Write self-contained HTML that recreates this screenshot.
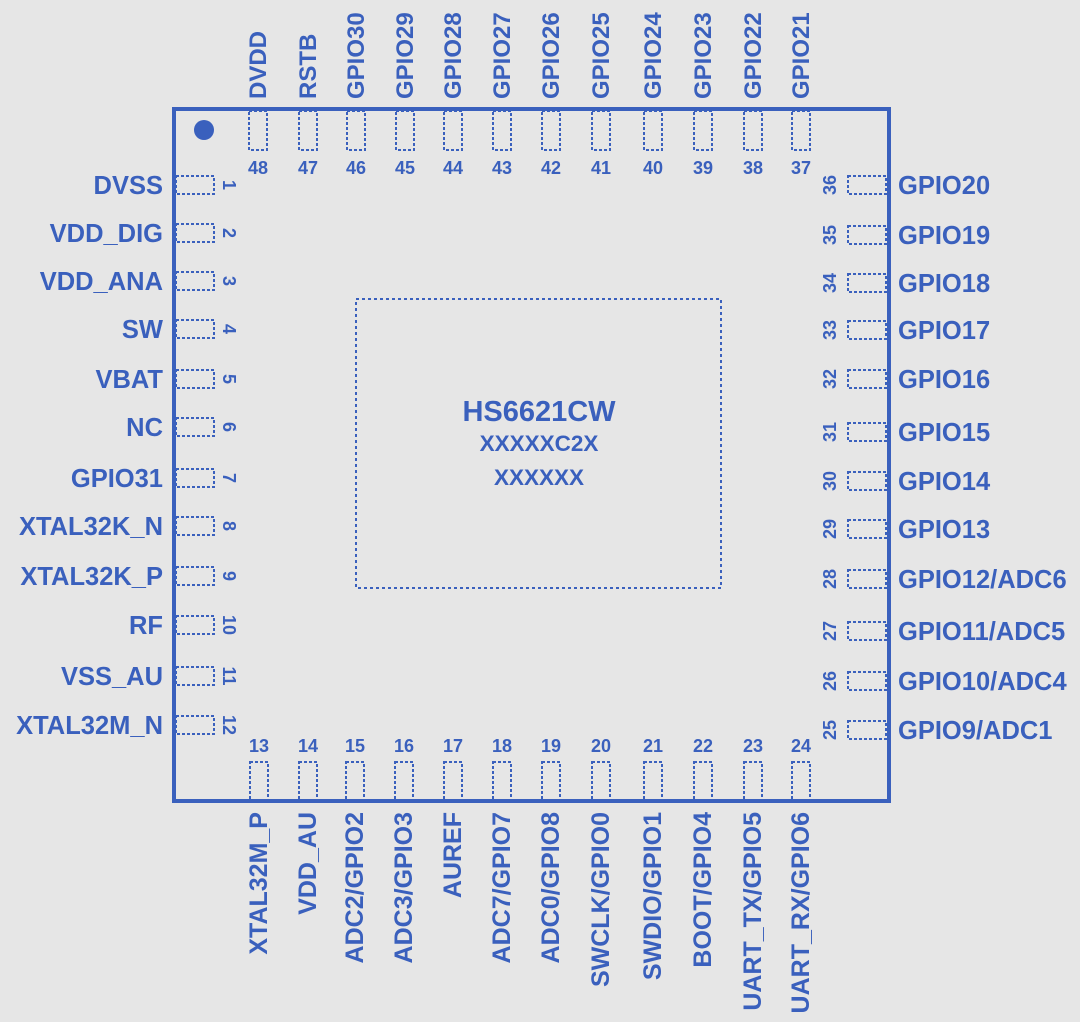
<!DOCTYPE html><html><head><style>body{margin:0;background:#e6e6e6}svg{display:block}text{font-family:"Liberation Sans",Arial,sans-serif;font-weight:bold;fill:#3a60bd}</style></head><body>
<svg width="1080" height="1022" viewBox="0 0 1080 1022">
<rect width="1080" height="1022" fill="#e6e6e6"/>
<rect x="174" y="109" width="715" height="692" fill="none" stroke="#3a60bd" stroke-width="4"/>
<circle cx="204" cy="130" r="10" fill="#3a60bd"/>
<rect x="356" y="299" width="365" height="289" fill="none" stroke="#3a60bd" stroke-width="2" stroke-dasharray="3 3"/>
<text x="539" y="421" font-size="29" text-anchor="middle">HS6621CW</text>
<text x="539" y="451" font-size="22.5" text-anchor="middle">XXXXXC2X</text>
<text x="539" y="485" font-size="22.5" text-anchor="middle">XXXXXX</text>
<g fill="none" stroke="#3a60bd" stroke-width="2" stroke-dasharray="3 2">
<rect x="249" y="111" width="18" height="39"/><rect x="299" y="111" width="18" height="39"/><rect x="347" y="111" width="18" height="39"/><rect x="396" y="111" width="18" height="39"/><rect x="444" y="111" width="18" height="39"/><rect x="493" y="111" width="18" height="39"/><rect x="542" y="111" width="18" height="39"/><rect x="592" y="111" width="18" height="39"/><rect x="644" y="111" width="18" height="39"/><rect x="694" y="111" width="18" height="39"/><rect x="744" y="111" width="18" height="39"/><rect x="792" y="111" width="18" height="39"/>
<rect x="250" y="762" width="18" height="38"/><rect x="299" y="762" width="18" height="38"/><rect x="346" y="762" width="18" height="38"/><rect x="395" y="762" width="18" height="38"/><rect x="444" y="762" width="18" height="38"/><rect x="493" y="762" width="18" height="38"/><rect x="542" y="762" width="18" height="38"/><rect x="592" y="762" width="18" height="38"/><rect x="644" y="762" width="18" height="38"/><rect x="694" y="762" width="18" height="38"/><rect x="744" y="762" width="18" height="38"/><rect x="792" y="762" width="18" height="38"/>
<rect x="176" y="176" width="38" height="18"/><rect x="176" y="224" width="38" height="18"/><rect x="176" y="272" width="38" height="18"/><rect x="176" y="320" width="38" height="18"/><rect x="176" y="370" width="38" height="18"/><rect x="176" y="418" width="38" height="18"/><rect x="176" y="469" width="38" height="18"/><rect x="176" y="517" width="38" height="18"/><rect x="176" y="567" width="38" height="18"/><rect x="176" y="616" width="38" height="18"/><rect x="176" y="667" width="38" height="18"/><rect x="176" y="716" width="38" height="18"/>
<rect x="848" y="176" width="38" height="18"/><rect x="848" y="226" width="38" height="18"/><rect x="848" y="274" width="38" height="18"/><rect x="848" y="321" width="38" height="18"/><rect x="848" y="370" width="38" height="18"/><rect x="848" y="423" width="38" height="18"/><rect x="848" y="472" width="38" height="18"/><rect x="848" y="520" width="38" height="18"/><rect x="848" y="570" width="38" height="18"/><rect x="848" y="622" width="38" height="18"/><rect x="848" y="672" width="38" height="18"/><rect x="848" y="721" width="38" height="18"/>
</g>
<g font-size="18" text-anchor="middle">
<text x="258" y="174">48</text><text x="308" y="174">47</text><text x="356" y="174">46</text><text x="405" y="174">45</text><text x="453" y="174">44</text><text x="502" y="174">43</text><text x="551" y="174">42</text><text x="601" y="174">41</text><text x="653" y="174">40</text><text x="703" y="174">39</text><text x="753" y="174">38</text><text x="801" y="174">37</text>
<text x="259" y="752">13</text><text x="308" y="752">14</text><text x="355" y="752">15</text><text x="404" y="752">16</text><text x="453" y="752">17</text><text x="502" y="752">18</text><text x="551" y="752">19</text><text x="601" y="752">20</text><text x="653" y="752">21</text><text x="703" y="752">22</text><text x="753" y="752">23</text><text x="801" y="752">24</text>
</g>
<g font-size="18" text-anchor="middle">
<text transform="translate(223,185) rotate(90)">1</text><text transform="translate(223,233) rotate(90)">2</text><text transform="translate(223,281) rotate(90)">3</text><text transform="translate(223,329) rotate(90)">4</text><text transform="translate(223,379) rotate(90)">5</text><text transform="translate(223,427) rotate(90)">6</text><text transform="translate(223,478) rotate(90)">7</text><text transform="translate(223,526) rotate(90)">8</text><text transform="translate(223,576) rotate(90)">9</text><text transform="translate(223,625) rotate(90)">10</text><text transform="translate(223,676) rotate(90)">11</text><text transform="translate(223,725) rotate(90)">12</text>
<text transform="translate(836,185) rotate(-90)">36</text><text transform="translate(836,235) rotate(-90)">35</text><text transform="translate(836,283) rotate(-90)">34</text><text transform="translate(836,330) rotate(-90)">33</text><text transform="translate(836,379) rotate(-90)">32</text><text transform="translate(836,432) rotate(-90)">31</text><text transform="translate(836,481) rotate(-90)">30</text><text transform="translate(836,529) rotate(-90)">29</text><text transform="translate(836,579) rotate(-90)">28</text><text transform="translate(836,631) rotate(-90)">27</text><text transform="translate(836,681) rotate(-90)">26</text><text transform="translate(836,730) rotate(-90)">25</text>
</g>
<g font-size="25.5" text-anchor="end">
<text x="163" y="194">DVSS</text><text x="163" y="242">VDD_DIG</text><text x="163" y="290">VDD_ANA</text><text x="163" y="338">SW</text><text x="163" y="388">VBAT</text><text x="163" y="436">NC</text><text x="163" y="487">GPIO31</text><text x="163" y="535">XTAL32K_N</text><text x="163" y="585">XTAL32K_P</text><text x="163" y="634">RF</text><text x="163" y="685">VSS_AU</text><text x="163" y="734">XTAL32M_N</text>
</g>
<g font-size="25.5">
<text x="898" y="194">GPIO20</text><text x="898" y="244">GPIO19</text><text x="898" y="292">GPIO18</text><text x="898" y="339">GPIO17</text><text x="898" y="388">GPIO16</text><text x="898" y="441">GPIO15</text><text x="898" y="490">GPIO14</text><text x="898" y="538">GPIO13</text><text x="898" y="588">GPIO12/ADC6</text><text x="898" y="640">GPIO11/ADC5</text><text x="898" y="690">GPIO10/ADC4</text><text x="898" y="739">GPIO9/ADC1</text>
</g>
<g font-size="24">
<text transform="translate(266,99) rotate(-90)">DVDD</text><text transform="translate(316,99) rotate(-90)">RSTB</text><text transform="translate(364,99) rotate(-90)">GPIO30</text><text transform="translate(413,99) rotate(-90)">GPIO29</text><text transform="translate(461,99) rotate(-90)">GPIO28</text><text transform="translate(510,99) rotate(-90)">GPIO27</text><text transform="translate(559,99) rotate(-90)">GPIO26</text><text transform="translate(609,99) rotate(-90)">GPIO25</text><text transform="translate(661,99) rotate(-90)">GPIO24</text><text transform="translate(711,99) rotate(-90)">GPIO23</text><text transform="translate(761,99) rotate(-90)">GPIO22</text><text transform="translate(809,99) rotate(-90)">GPIO21</text>
</g>
<g font-size="25" text-anchor="end">
<text transform="translate(267,812) rotate(-90)">XTAL32M_P</text><text transform="translate(316,812) rotate(-90)">VDD_AU</text><text transform="translate(363,812) rotate(-90)">ADC2/GPIO2</text><text transform="translate(412,812) rotate(-90)">ADC3/GPIO3</text><text transform="translate(461,812) rotate(-90)">AUREF</text><text transform="translate(510,812) rotate(-90)">ADC7/GPIO7</text><text transform="translate(559,812) rotate(-90)">ADC0/GPIO8</text><text transform="translate(609,812) rotate(-90)">SWCLK/GPIO0</text><text transform="translate(661,812) rotate(-90)">SWDIO/GPIO1</text><text transform="translate(711,812) rotate(-90)">BOOT/GPIO4</text><text transform="translate(761,812) rotate(-90)">UART_TX/GPIO5</text><text transform="translate(809,812) rotate(-90)">UART_RX/GPIO6</text>
</g>
</svg></body></html>
